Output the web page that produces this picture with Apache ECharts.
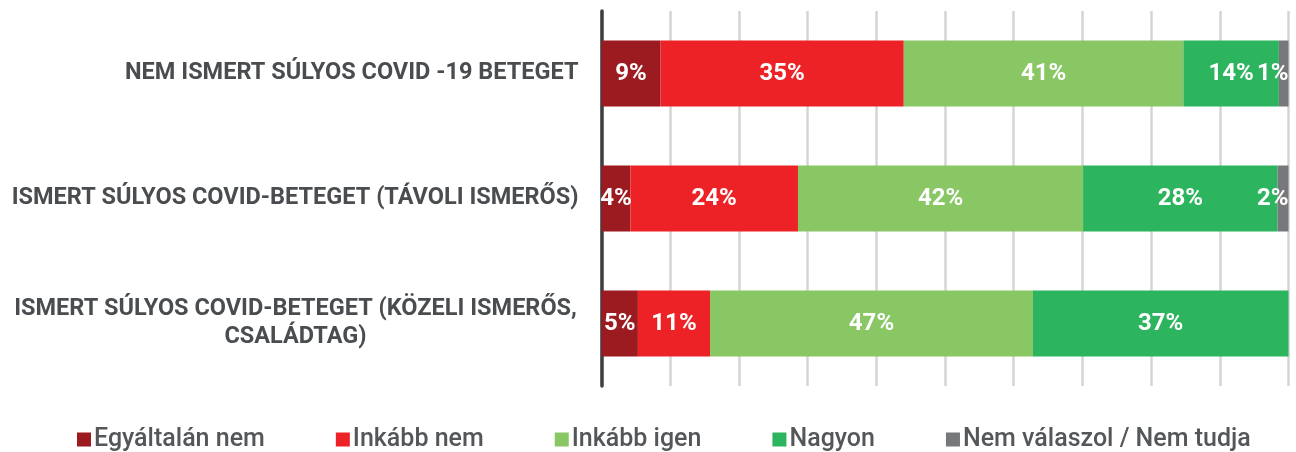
<!DOCTYPE html>
<html>
<head>
<meta charset="utf-8">
<script src="https://cdn.jsdelivr.net/npm/echarts@6/dist/echarts.min.js"></script>
<style>
html,body{margin:0;padding:0;background:#fff;}
#chart{width:1296px;height:452px;}
</style>
</head>
<body>
<div id="chart"></div>
<script>
const categories = [
  'NEM ISMERT SÚLYOS COVID -19 BETEGET',
  'ISMERT SÚLYOS COVID-BETEGET (TÁVOLI ISMERŐS)',
  'ISMERT SÚLYOS COVID-BETEGET (KÖZELI ISMERŐS,\nCSALÁDTAG)'
];
const seriesNames = ['Egyáltalán nem', 'Inkább nem', 'Inkább igen', 'Nagyon', 'Nem válaszol / Nem tudja'];
const egyaltalanNem = [8.6, 4.2, 5.3];
const inkabbNem = [35.4, 24.4, 10.5];
const inkabbIgen = [40.7, 41.5, 47.0];
const nagyon = [13.9, 28.3, 37.2];
const nemValaszol = [1.4, 1.6, 0];
const xTicks = [0, 10, 20, 30, 40, 50, 60, 70, 80, 90, 100];

const colors = ['#9b1b20', '#ec2227', '#88c764', '#2db45f', '#76787b'];
const values = [egyaltalanNem, inkabbNem, inkabbIgen, nagyon, nemValaszol];
const FONT = 'Roboto';

const chart = echarts.init(document.getElementById('chart'));
chart.setOption({
  animation: false,
  color: colors,
  textStyle: { fontFamily: FONT },
  grid: { left: 601.5, right: 7.5, top: 11, bottom: 66, containLabel: false },
  legend: {
    data: seriesNames,
    left: 72, top: 422,
    icon: 'rect', itemWidth: 14, itemHeight: 14, itemGap: 71,
    textStyle: { fontFamily: FONT, fontSize: 25, fontWeight: 500, color: '#54575a', padding: [0, 0, 0, -2] }
  },
  xAxis: {
    type: 'value', min: xTicks[0], max: xTicks[xTicks.length - 1], interval: 10,
    axisLabel: { show: false }, axisLine: { show: false }, axisTick: { show: false },
    splitLine: { show: true, lineStyle: { color: '#d4d4d4', width: 2.5 } }
  },
  yAxis: {
    type: 'category', data: categories, inverse: true,
    axisTick: { show: false },
    axisLine: { show: true, lineStyle: { color: '#3b3f42', width: 3.5 } },
    axisLabel: {
      margin: 23, fontFamily: FONT, fontSize: 23.5, fontWeight: 'bold', color: '#4a4d50',
      lineHeight: 28,
      formatter: function (v) {
        if (v.indexOf('\n') >= 0) {
          return v.split('\n').map(s => '{c|' + s + '}').join('\n');
        }
        return v;
      },
      rich: { c: { width: 566, align: 'center', fontFamily: FONT, fontSize: 23.5, fontWeight: 'bold', color: '#4a4d50', lineHeight: 28 } }
    }
  },
  series: seriesNames.map((name, i) => ({
    name: name, type: 'bar', stack: 'total', barWidth: 66,
    data: values[i],
    itemStyle: { color: colors[i] },
    label: {
      show: true, position: i === 4 ? 'insideRight' : 'inside',
      distance: 0,
      color: '#ffffff', fontFamily: FONT, fontSize: 24, fontWeight: 'bold',
      formatter: p => p.value > 0 ? Math.round(p.value) + '%' : ''
    }
  }))
});
</script>
</body>
</html>
